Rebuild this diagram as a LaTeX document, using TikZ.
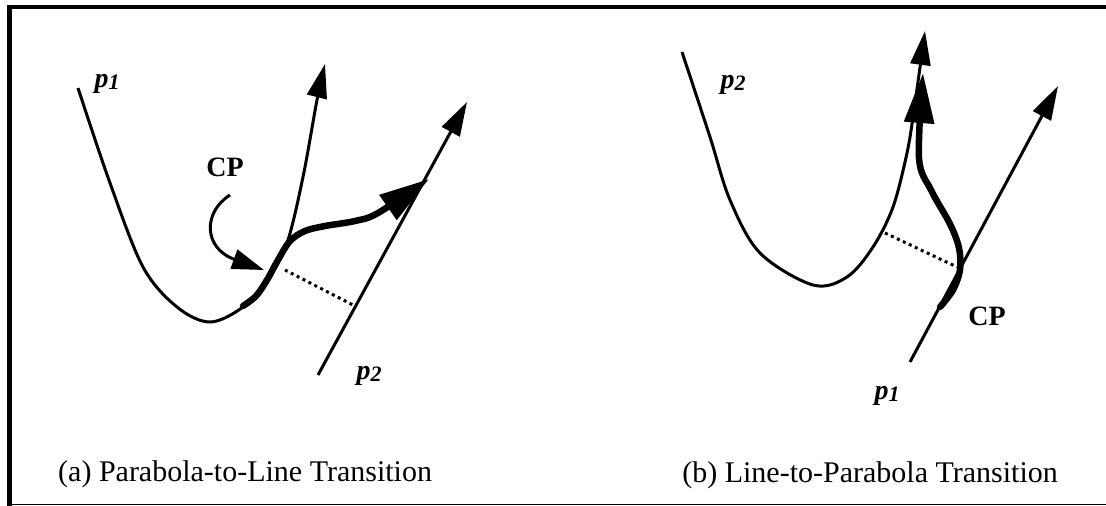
\documentclass[tikz,border=0pt]{standalone}
\usepackage{fontspec}
\setmainfont{Liberation Serif}
\usetikzlibrary{arrows.meta}
\begin{document}
\begin{tikzpicture}[x=1pt,y=-1pt,
  thincurve/.style={line width=3pt, line join=round},
  thickcurve/.style={line width=6.5pt, line cap=round, line join=round},
  thinhead/.style={-{Triangle[length=34pt,width=20pt]}},
  bighead/.style={-{Triangle[length=50pt,width=29pt]}},
  dotline/.style={line width=3pt, dash pattern=on 3pt off 3.6pt},
  plabel/.style={font=\fontsize{28}{30}\selectfont\bfseries\itshape, inner sep=0pt},
  cplabel/.style={font=\fontsize{28}{30}\selectfont\bfseries, inner sep=0pt},
  caption/.style={font=\fontsize{30}{34}\selectfont, inner sep=0pt}]
\useasboundingbox (0,0) rectangle (1106,506);
% frame
\coordinate (ftr) at (1106,7);
\coordinate (ftl) at (9.7,7);
\coordinate (fbl) at (9.7,506);
\coordinate (fbl2) at (9.7,504.5);
\coordinate (fbr) at (1106,504.5);
\draw[line width=4.6pt] (ftr) -- (ftl) -- (fbl);
\draw[line width=1.2pt] (fbl2) -- (fbr);

% ---------- (a) Parabola-to-Line ----------
\draw[thincurve, thinhead] plot[smooth, tension=0.55] coordinates
  {(78,88) (110,183) (143,267) (177,307) (210,322) (243,307) (267,280) (287,243) (303,177) (317,100) (325,64)};
\coordinate (a2s) at (318,375);
\coordinate (a2e) at (467,102);
\draw[thincurve, thinhead] (a2s) -- (a2e);
\draw[thickcurve, bighead] plot[smooth, tension=0.55] coordinates
  {(243,306) (256,296) (267,280) (278,260) (290,241) (305,231) (325,226) (355,221) (378,213) (429,179)};
\coordinate (ad1) at (285,270);
\coordinate (ad2) at (353,305);
\draw[dotline] (ad1) -- (ad2);
\node[cplabel] (cpa) at (225,167) {CP};
\coordinate (cpas) at (230,195);
\coordinate (cpae) at (264,270);
\draw[line width=3pt, -{Triangle[length=32pt,width=20pt]}] (cpas) .. controls (203,212) and (203,248) .. (cpae);
\node[plabel] (ap1) at (107,84) {p\raisebox{-2pt}{\fontsize{22}{22}\selectfont 1}};
\node[plabel] (ap2) at (369,376) {p\raisebox{-2pt}{\fontsize{22}{22}\selectfont 2}};
\node[caption, anchor=base west] (capa) at (58,481) {(a) Parabola-to-Line Transition};

% ---------- (b) Line-to-Parabola ----------
\draw[thincurve, thinhead] plot[smooth, tension=0.55] coordinates
  {(682,52) (710,137) (730,200) (760,253) (813,285) (847,277) (873,247) (893,207) (907,153) (914,110) (925,31)};
\coordinate (b1s) at (910,362);
\coordinate (b1e) at (1058,86);
\draw[thincurve, thinhead] (b1s) -- (b1e);
\draw[thickcurve, bighead] plot[smooth, tension=0.55] coordinates
  {(940,307) (953,290) (960,270) (959,248) (950,224) (931,190) (919,158) (923,73)};
\coordinate (bd1) at (885,233);
\coordinate (bd2) at (957,267);
\draw[dotline] (bd1) -- (bd2);
\node[cplabel] (cpb) at (987,316) {CP};
\node[plabel] (bp2) at (733,85) {p\raisebox{-2pt}{\fontsize{22}{22}\selectfont 2}};
\node[plabel] (bp1) at (887,396) {p\raisebox{-2pt}{\fontsize{22}{22}\selectfont 1}};
\node[caption, anchor=base east] (capb) at (1058,482) {(b) Line-to-Parabola Transition};
\end{tikzpicture}
\end{document}
